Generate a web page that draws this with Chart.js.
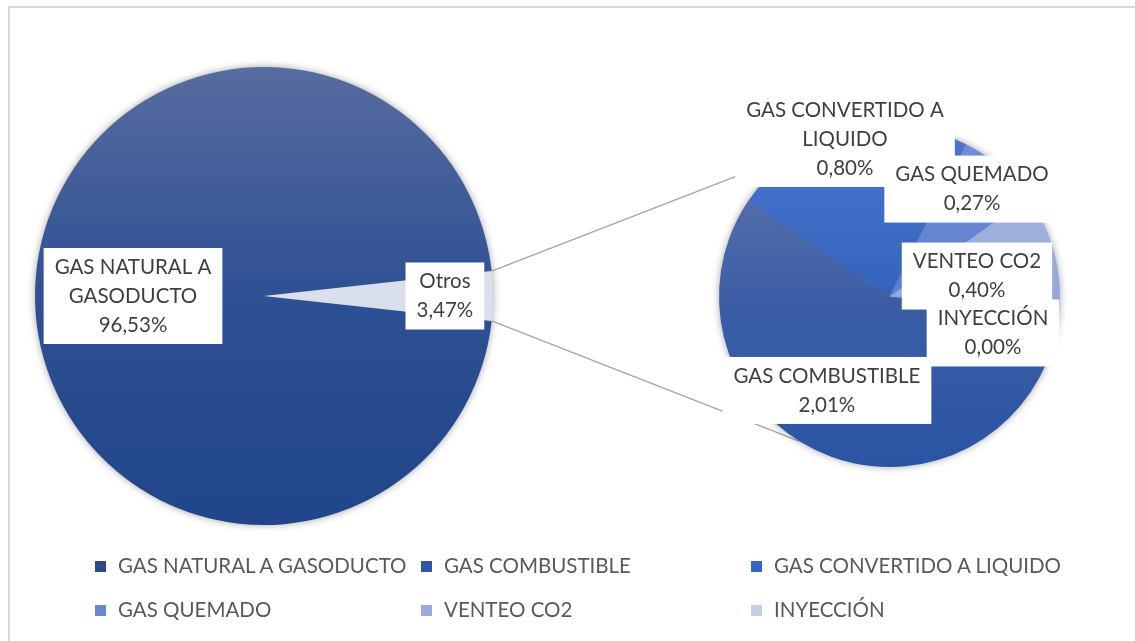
<!DOCTYPE html>
<html>
<head>
<meta charset="utf-8">
<script src="https://cdn.jsdelivr.net/npm/chart.js@4"></script>
<style>
  body { margin: 0; background: #fff; }
  #wrap { position: relative; width: 1135px; height: 641px; overflow: hidden; }
  #frame { position: absolute; left: 8px; top: 6px; width: 1140px; height: 650px;
           border-top: 2px solid #d9d9d9; border-left: 2px solid #d9d9d9; }
  canvas { position: absolute; left: 0; top: 0; }
  #legend { position: absolute; left: 0; top: 0; width: 1135px; height: 641px; pointer-events: none; }
  .item { position: absolute; font: 20.5px Lato, sans-serif; color: #595959; white-space: nowrap; line-height: 24px; }
  .item span { display: inline-block; width: 11px; height: 11px; margin-right: 12px; vertical-align: 1px; }
</style>
</head>
<body>
<div id="wrap">
  <div id="frame"></div>
  <canvas id="mainPie" width="1135" height="641"></canvas>
  <canvas id="otherPie" width="1135" height="641"></canvas>
  <div id="legend"></div>
</div>
<script>
// main pie
const mainLabels = ['GAS NATURAL A GASODUCTO', 'Otros'];
const mainValues = [96.53, 3.47];

// second pie (breakdown of "Otros")
const otherLabels = ['GAS COMBUSTIBLE', 'GAS CONVERTIDO A LIQUIDO', 'GAS QUEMADO', 'VENTEO CO2', 'INYECCIÓN'];
const otherValues = [2.01, 0.80, 0.27, 0.40, 0.00];

const mainColors = [['#576c9f', '#2e5094', '#21458a'], ['#e4e7f2', '#dadfee', '#ccd3e8']];
const otherColors = [['#6478ad', '#3d5ea6', '#2a54a4'], ['#4a78cf', '#3463bc', '#2456b0'],
                     ['#7390d8', '#5d7ecd', '#4b6fc4'], ['#aebde5', '#93a7d9', '#7a92d0'],
                     ['#ccd3ec', '#c2cae8', '#b8c2e4']];
const legendColors = ['#2b4a8a', '#3156a8', '#3566c6', '#6a86cf', '#9aabd9', '#c6cde9'];

const FONT = '20.5px Lato, sans-serif';
const LINE_H = 29;

function pct(v) {
  return v.toFixed(2).replace('.', ',') + '%';
}

function gradFill(colors) {
  return function(c) {
    const area = c.chart.chartArea;
    const stops = colors[c.dataIndex];
    if (!area) return stops[1];
    const g = c.chart.ctx.createLinearGradient(0, area.top, 0, area.bottom);
    stops.forEach((s, k) => g.addColorStop(k / (stops.length - 1), s));
    return g;
  };
}

function wrap(ctx, text, maxW) {
  const words = text.split(' ');
  const lines = [];
  let cur = '';
  words.forEach(w => {
    const t = cur ? cur + ' ' + w : w;
    if (cur && ctx.measureText(t).width > maxW) {
      lines.push(cur);
      cur = w;
    } else {
      cur = t;
    }
  });
  if (cur) lines.push(cur);
  return lines;
}

const shadowPlugin = {
  id: 'pieShadow',
  beforeDatasetsDraw(chart) {
    const a = chart.getDatasetMeta(0).data[0];
    const ctx = chart.ctx;
    ctx.save();
    ctx.shadowColor = 'rgba(0,0,0,0.45)';
    ctx.shadowBlur = 9;
    ctx.fillStyle = '#777';
    ctx.beginPath();
    ctx.arc(a.x, a.y, a.outerRadius - 1, 0, Math.PI * 2);
    ctx.fill();
    ctx.restore();
  }
};

const boxLabels = {
  id: 'boxLabels',
  afterDatasetsDraw(chart, args, opts) {
    const ctx = chart.ctx;
    const meta = chart.getDatasetMeta(0);
    const a0 = meta.data[0];
    const values = chart.data.datasets[0].data;

    // connector lines to the second pie
    if (opts.linkTo) {
      const other = opts.linkTo().getDatasetMeta(0).data[0];
      const src = meta.data[opts.linkIndex];
      const ang = opts.linkAngle * Math.PI / 180;
      ctx.save();
      ctx.strokeStyle = '#a6a6a6';
      ctx.lineWidth = 1.5;
      ctx.beginPath();
      ctx.moveTo(src.x + src.outerRadius * Math.cos(src.startAngle), src.y + src.outerRadius * Math.sin(src.startAngle));
      ctx.lineTo(other.x + other.outerRadius * Math.cos(-ang), other.y + other.outerRadius * Math.sin(-ang));
      ctx.moveTo(src.x + src.outerRadius * Math.cos(src.endAngle), src.y + src.outerRadius * Math.sin(src.endAngle));
      ctx.lineTo(other.x + other.outerRadius * Math.cos(ang), other.y + other.outerRadius * Math.sin(ang));
      ctx.stroke();
      ctx.restore();
    }

    ctx.save();
    ctx.font = FONT;
    ctx.textAlign = 'center';
    ctx.textBaseline = 'middle';
    meta.data.forEach((arc, i) => {
      const p = opts.positions[i];
      const x = a0.x + p[0] * a0.outerRadius;
      const y = a0.y + p[1] * a0.outerRadius;
      const lines = wrap(ctx, chart.data.labels[i], opts.wrapWidth).concat([pct(values[i])]);
      const w = Math.max(...lines.map(l => ctx.measureText(l).width)) + 22;
      const h = lines.length * LINE_H + 9;
      ctx.fillStyle = '#ffffff';
      ctx.fillRect(x - w / 2, y - h / 2, w, h);
      ctx.fillStyle = '#3f3f3f';
      lines.forEach((l, k) => {
        ctx.fillText(l, x, y + (k - (lines.length - 1) / 2) * LINE_H);
      });
    });
    ctx.restore();
  }
};

const base = {
  responsive: false,
  animation: false,
  events: [],
  devicePixelRatio: 1,
  plugins: { legend: { display: false }, tooltip: { enabled: false } }
};

const otherChart = new Chart(document.getElementById('otherPie'), {
  type: 'pie',
  data: {
    labels: otherLabels,
    datasets: [{ data: otherValues, backgroundColor: gradFill(otherColors), borderWidth: 0 }]
  },
  options: Object.assign({}, base, {
    rotation: 96,
    layout: { padding: { left: 719, right: 75, top: 126, bottom: 174 } },
    plugins: Object.assign({}, base.plugins, {
      boxLabels: {
        wrapWidth: 212,
        positions: [[-0.367, 0.551], [-0.261, -0.924], [0.484, -0.63], [0.513, -0.12], [0.607, 0.214]]
      }
    })
  }),
  plugins: [shadowPlugin, boxLabels]
});

const mainTotal = mainValues.reduce((s, v) => s + v, 0);

new Chart(document.getElementById('mainPie'), {
  type: 'pie',
  data: {
    labels: mainLabels,
    datasets: [{ data: mainValues, backgroundColor: gradFill(mainColors), borderWidth: 0 }]
  },
  options: Object.assign({}, base, {
    // centre the "Otros" slice on the right-hand side
    rotation: 90 + mainValues[1] / mainTotal * 180,
    layout: { padding: { left: 35, right: 642, top: 67, bottom: 116 } },
    plugins: Object.assign({}, base.plugins, {
      boxLabels: {
        wrapWidth: 175,
        positions: [[-0.572, 0.0], [0.79, 0.0]],
        linkTo: () => otherChart,
        linkIndex: 1,
        linkAngle: 122
      }
    })
  }),
  plugins: [shadowPlugin, boxLabels]
});

// legend
const legendItems = [mainLabels[0]].concat(otherLabels);
const cols = [95, 421, 751];
const rows = [565, 609];
const lg = document.getElementById('legend');
legendItems.forEach((name, i) => {
  const d = document.createElement('div');
  d.className = 'item';
  d.style.left = cols[i % 3] + 'px';
  d.style.top = (rows[Math.floor(i / 3)] - 12) + 'px';
  d.innerHTML = '<span style="background:' + legendColors[i] + '"></span>' + name;
  lg.appendChild(d);
});
</script>
</body>
</html>
